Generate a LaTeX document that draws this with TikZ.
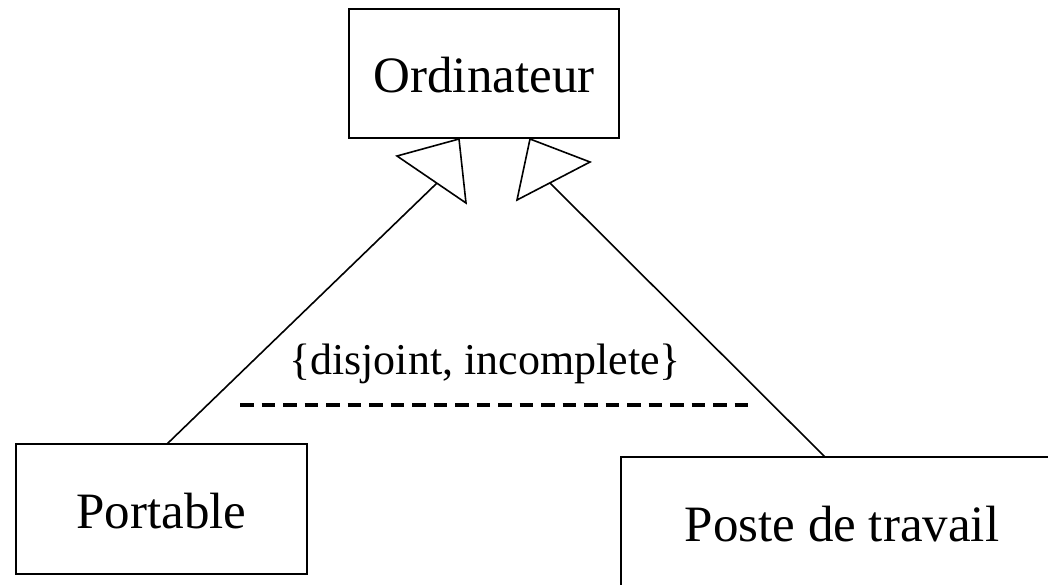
\documentclass[tikz,border=0pt]{standalone}
\usepackage{fontspec}
\setmainfont{Liberation Serif}
\begin{document}
\begin{tikzpicture}[x=1pt,y=-1pt,
  classbox/.style={draw,line width=1.6pt,rectangle,inner sep=0pt,
    text height=38pt,text depth=0pt,
    font=\fontsize{51}{60}\selectfont},
  genline/.style={line width=1.6pt},
  gentri/.style={line width=1.6pt,line join=miter,fill=white},
  constraint/.style={line width=4pt,dash pattern=on 13.5pt off 8pt}]
\clip (0,0) rectangle (1048,584);

% classes
\node[classbox,minimum width=270pt,minimum height=129pt] (ord) at (484,73.5) {Ordinateur};
\node[classbox,minimum width=291pt,minimum height=130pt] (port) at (161.5,509) {Portable};
\node[classbox,minimum width=442pt,minimum height=130pt] (poste) at (842,522) {Poste de travail};

% generalisation from Portable
\coordinate (tipA) at (459,139);
\coordinate (baseA1) at (397,156);
\coordinate (baseA2) at (466,203);
\coordinate (midA) at (437,183);
\coordinate (portTop) at (167,444);
\draw[genline] (portTop) -- (midA);
\draw[gentri] (tipA) -- (baseA1) -- (baseA2) -- cycle;

% generalisation from Poste de travail
\coordinate (tipB) at (530,139);
\coordinate (baseB1) at (590,162);
\coordinate (baseB2) at (517,200);
\coordinate (midB) at (550,183);
\coordinate (posteTop) at (825,457);
\draw[genline] (posteTop) -- (midB);
\draw[gentri] (tipB) -- (baseB1) -- (baseB2) -- cycle;

% constraint on the generalisation set
\coordinate (dashL) at (240,405);
\coordinate (dashR) at (749,405);
\draw[constraint] (dashL) -- (dashR);
\node[anchor=base,inner sep=0pt,font=\fontsize{44}{52}\selectfont] (cons) at (485,374) {\{disjoint, incomplete\}};
\end{tikzpicture}
\end{document}
